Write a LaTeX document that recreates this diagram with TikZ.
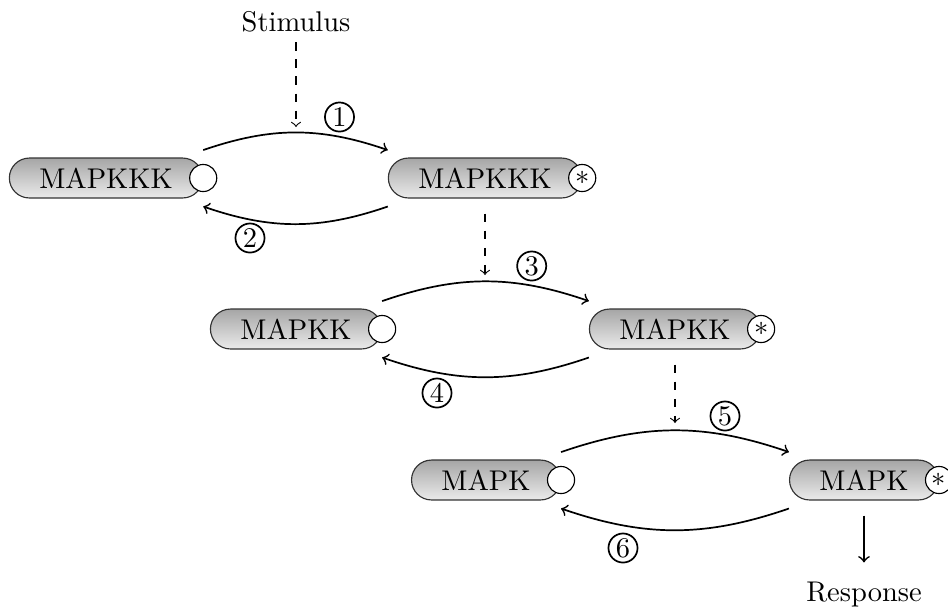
\documentclass[tikz,border=0pt]{standalone}
\begin{document}
\begin{tikzpicture}[x={(0.350877pt,0pt)}, y={(0pt,-0.350877pt)},
  pill/.style={draw=black!80, rounded corners=7pt, minimum height=14pt,
    inner xsep=10.5pt, inner ysep=0pt, top color=black!35, bottom color=black!8},
  site/.style={circle, draw, fill=white, minimum size=9.5pt, inner sep=0pt},
  stepnum/.style={circle, draw, semithick, minimum size=10.2pt, inner sep=0pt},
  react/.style={->, semithick},
  signal/.style={->, dashed},
  shiftbend/.style={bend left=19}]
\useasboundingbox (0,0) rectangle (948,608);

% kinase cascade: inactive form (left) and phosphorylated form (right)
\node[pill] (k3) at (106,178) {MAPKKK};
\node[site] (k3s) at (k3.east) {};
\node[pill] (k3p) at (485,178) {MAPKKK};
\node[site] (k3ps) at (k3p.east) {$*$};

\node[pill] (k2) at (296,329) {MAPKK};
\node[site] (k2s) at (k2.east) {};
\node[pill] (k2p) at (675,329) {MAPKK};
\node[site] (k2ps) at (k2p.east) {$*$};

\node[pill] (k1) at (486,480) {MAPK};
\node[site] (k1s) at (k1.east) {};
\node[pill] (k1p) at (864,480) {MAPK};
\node[site] (k1ps) at (k1p.east) {$*$};

% input and output
\node (stim) at (296,21.8) {Stimulus};
\node (resp) at (864,594.7) {Response};

% activation / deactivation cycles
\draw[react] ([yshift=9.8pt]k3.east) to[shiftbend] ([yshift=9.8pt]k3p.west);
\draw[react] ([yshift=-10pt]k3p.west) to[shiftbend] ([yshift=-10pt]k3.east);
\draw[react] ([yshift=9.8pt]k2.east) to[shiftbend] ([yshift=9.8pt]k2p.west);
\draw[react] ([yshift=-10pt]k2p.west) to[shiftbend] ([yshift=-10pt]k2.east);
\draw[react] ([yshift=9.8pt]k1.east) to[shiftbend] ([yshift=9.8pt]k1p.west);
\draw[react] ([yshift=-10pt]k1p.west) to[shiftbend] ([yshift=-10pt]k1.east);

% step numbers
\node[stepnum] (n1) at (339.5,117) {1};
\node[stepnum] (n2) at (250,238) {2};
\node[stepnum] (n3) at (531.7,266) {3};
\node[stepnum] (n4) at (437,393) {4};
\node[stepnum] (n5) at (725,416) {5};
\node[stepnum] (n6) at (623,548) {6};

% signalling arrows
\coordinate (t1) at (296,127);
\coordinate (t2) at (485,275);
\coordinate (t3) at (675,423);
\draw[signal] (stim) -- (t1);
\draw[signal] ([yshift=-5.3pt]k3p.south) -- (t2);
\draw[signal] ([yshift=-5.3pt]k2p.south) -- (t3);
\draw[react, shorten >=3.4pt] ([yshift=-5.3pt]k1p.south) -- (resp);
\end{tikzpicture}
\end{document}
